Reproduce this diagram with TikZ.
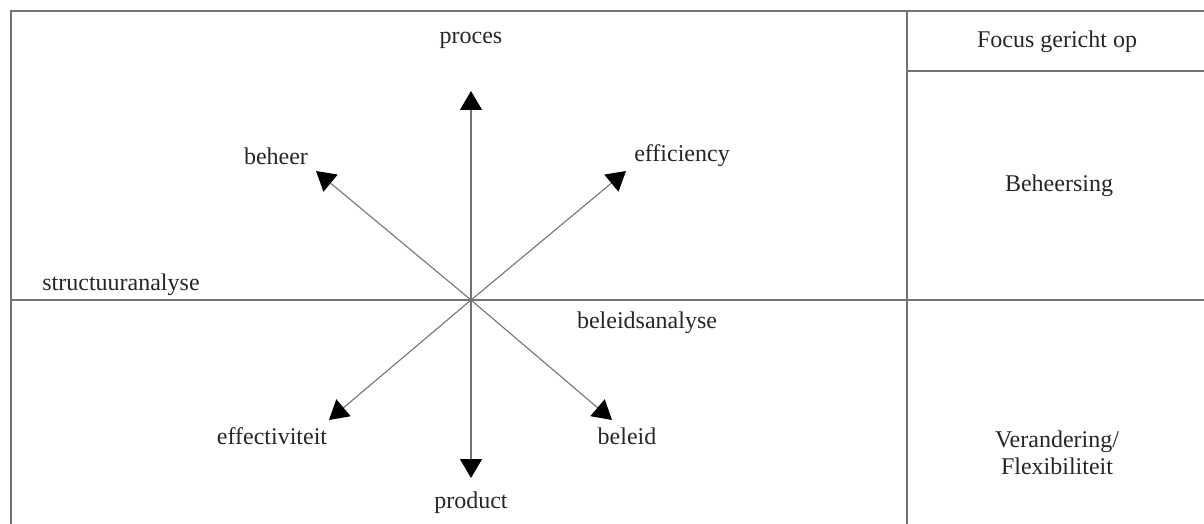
\documentclass[tikz,border=0pt]{standalone}
\usepackage{fontspec}
\setmainfont{Liberation Serif}
\usetikzlibrary{arrows.meta}
\begin{document}
\begin{tikzpicture}[x=1pt,y=-1pt,
  frame/.style={draw=black!55,line width=1.1pt},
  axis/.style={draw=black!55,line width=1.1pt,-{Triangle[length=19pt,width=22pt,fill=black,color=black]}},
  lbl/.style={inner sep=0pt,font=\fontsize{24}{27}\selectfont,text=black!85,align=center}]
\useasboundingbox (0,0) rectangle (1204,524);
% frame
\coordinate (tl) at (11,11);
\coordinate (bl) at (11,524);
\coordinate (tr) at (1204,11);
\coordinate (dt) at (907,11);
\coordinate (db) at (907,524);
\coordinate (hl) at (907,71);
\coordinate (hr) at (1204,71);
\coordinate (ml) at (11,300);
\coordinate (mr) at (1204,300);
\draw[frame] (bl) -- (tl) -- (tr);
\draw[frame] (dt) -- (db);
\draw[frame] (hl) -- (hr);
\draw[frame] (ml) -- (mr);
% center and arrow tips
\coordinate (c) at (471,300);
\coordinate (tN) at (471,91);
\coordinate (tS) at (471,478);
\coordinate (tNW) at (316,171);
\coordinate (tNE) at (626,171);
\coordinate (tSW) at (329,420);
\coordinate (tSE) at (612,420);
\draw[axis] (c) -- (tN);
\draw[axis] (c) -- (tS);
\draw[axis] (c) -- (tNW);
\draw[axis] (c) -- (tNE);
\draw[axis] (c) -- (tSW);
\draw[axis] (c) -- (tSE);
% labels
\node[lbl] (proces) at (471,40) {proces};
\node[lbl] (product) at (471,503) {product};
\node[lbl] (beheer) at (276,156) {beheer};
\node[lbl] (efficiency) at (682,156) {efficiency};
\node[lbl] (effectiviteit) at (272,436) {effectiviteit};
\node[lbl] (beleid) at (627,436) {beleid};
\node[lbl] (structuur) at (121,285) {structuuranalyse};
\node[lbl] (beleidsanalyse) at (647,323) {beleidsanalyse};
\node[lbl] (focus) at (1057,42) {Focus gericht op};
\node[lbl] (beheersing) at (1059,186) {Beheersing};
\node[lbl] (verandering) at (1057,453) {Verandering/\\Flexibiliteit};
\end{tikzpicture}
\end{document}
